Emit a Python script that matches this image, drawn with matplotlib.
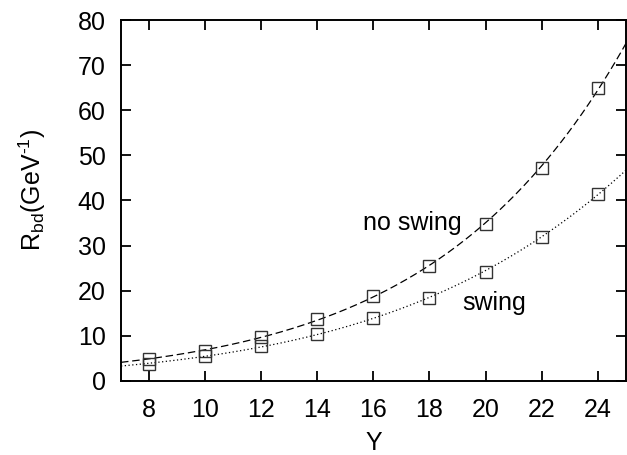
import numpy as np
import matplotlib
matplotlib.use("Agg")
import matplotlib.pyplot as plt

plt.rcParams['font.family'] = ['Liberation Sans', 'DejaVu Sans']
plt.rcParams['mathtext.fontset'] = 'custom'
plt.rcParams['mathtext.rm'] = 'Liberation Sans'
plt.rcParams['mathtext.it'] = 'Liberation Sans'

Y = [8, 10, 12, 14, 16, 18, 20, 22, 24]
no_swing = [4.8, 6.7, 9.8, 13.7, 18.9, 25.5, 34.7, 47.2, 64.9]
swing = [3.7, 5.5, 7.7, 10.4, 14.0, 18.3, 24.1, 32.0, 41.4]

fig = plt.figure(figsize=(6.27, 4.55), dpi=100)
ax = fig.add_axes([0.193, 0.163, 0.805, 0.793])

xs = np.linspace(7, 25, 300)
for vals, ls in [(no_swing, (0, (6, 3))), (swing, (0, (1, 2)))]:
    coef = np.polyfit(Y, np.log(vals), 2, w=np.sqrt(vals))
    ax.plot(xs, np.exp(np.polyval(coef, xs)), color='black', lw=0.9, linestyle=ls)
    ax.plot(Y, vals, linestyle='none', marker='s', markersize=8.5,
            markerfacecolor='none', markeredgecolor='#333333', markeredgewidth=1.0)

ax.set_xlim(7, 25)
ax.set_ylim(0, 80)
ax.set_xticks(range(8, 25, 2))
ax.set_yticks(range(0, 81, 10))
ax.tick_params(direction='in', top=True, right=True, length=7.5, width=1.3,
               labelsize=18)
ax.tick_params(axis='x', pad=12)
ax.tick_params(axis='y', pad=11)
for s in ax.spines.values():
    s.set_linewidth(1.4)

ax.text(17.4, 35.1, 'no swing', fontsize=18, ha='center', va='center')
ax.text(20.3, 17.3, 'swing', fontsize=18, ha='center', va='center')

ax.set_xlabel('Y', fontsize=18)
ax.set_ylabel('R$_{\\rm bd}$(GeV$^{\\rm \u2010 1}$)', fontsize=18)
ax.xaxis.set_label_coords(0.5, -0.14)
ax.yaxis.set_label_coords(-0.145, 0.53)

fig.savefig('out.png', dpi=100)
